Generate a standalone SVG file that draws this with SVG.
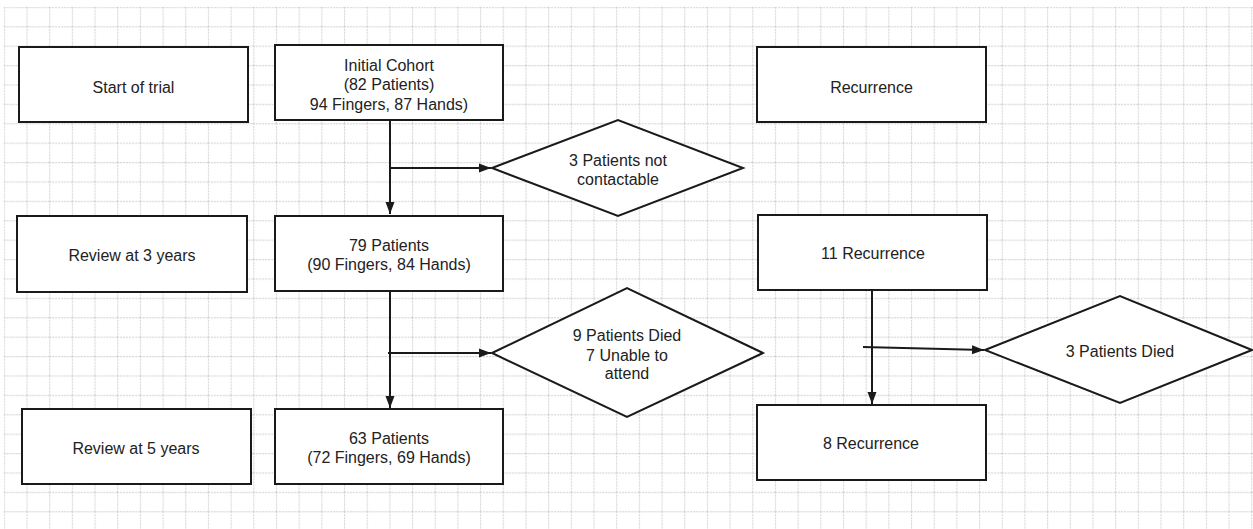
<svg xmlns="http://www.w3.org/2000/svg" width="1253" height="529" viewBox="0 0 1253 529">
<style>
.box{fill:#fff;stroke:#1a1a1a;stroke-width:2}
.dia{fill:#fff;stroke:#1a1a1a;stroke-width:2;stroke-linejoin:miter}
.t{font-family:"Liberation Sans",Arial,sans-serif;font-size:16px;fill:#222;text-anchor:middle}
.c{fill:none;stroke:#1a1a1a;stroke-width:2}
.g{stroke:#d6d6d6;stroke-width:1.2;stroke-dasharray:2 1;fill:none}
</style>
<defs>
<pattern id="grid" patternUnits="userSpaceOnUse" x="3.8" y="6.8" width="22.68" height="19.4">
<path class="g" d="M0.5,0 V19.4 M0,0.5 H22.68"/>
</pattern>
<marker id="arr" markerUnits="userSpaceOnUse" markerWidth="12" markerHeight="10" refX="12" refY="5" orient="auto">
<path d="M0,0.5 L12,5 L0,9.5 z" fill="#1a1a1a"/>
</marker>
</defs>
<rect x="0" y="0" width="1253" height="529" fill="#fff"/>
<rect x="3.8" y="6.8" width="1250" height="523" fill="url(#grid)"/>
<g id="connectors">
<path class="c" d="M390,120 V214" marker-end="url(#arr)"/>
<path class="c" d="M390,168 H491" marker-end="url(#arr)"/>
<path class="c" d="M390,291 V408" marker-end="url(#arr)"/>
<path class="c" d="M388,353 H491" marker-end="url(#arr)"/>
<path class="c" d="M872,290 V404" marker-end="url(#arr)"/>
<path class="c" d="M863,347 L984,350" marker-end="url(#arr)"/>
</g>
<g id="start-of-trial">
<rect class="box" x="19" y="47" width="229" height="75"/>
<text class="t" x="133.5" y="93">Start of trial</text>
</g>
<g id="initial-cohort">
<rect class="box" x="275" y="45" width="228" height="75"/>
<text class="t" x="389" y="70.5">Initial Cohort</text>
<text class="t" x="389" y="90">(82 Patients)</text>
<text class="t" x="389" y="109.5">94 Fingers, 87 Hands)</text>
</g>
<g id="recurrence">
<rect class="box" x="757" y="47" width="229" height="75"/>
<text class="t" x="871.5" y="92.5">Recurrence</text>
</g>
<g id="not-contactable">
<polygon class="dia" points="492,168 618,120 743,168 618,216"/>
<text class="t" x="618" y="166">3 Patients not</text>
<text class="t" x="618" y="185">contactable</text>
</g>
<g id="review-3">
<rect class="box" x="17" y="216" width="230" height="76"/>
<text class="t" x="132" y="261">Review at 3 years</text>
</g>
<g id="patients-79">
<rect class="box" x="275" y="216" width="228" height="75"/>
<text class="t" x="389" y="250.5">79 Patients</text>
<text class="t" x="389" y="270">(90 Fingers, 84 Hands)</text>
</g>
<g id="recurrence-11">
<rect class="box" x="758" y="215" width="229" height="75"/>
<text class="t" x="873" y="259">11 Recurrence</text>
</g>
<g id="died-unable">
<polygon class="dia" points="492,353 627,288 763,353 627,417"/>
<text class="t" x="627" y="341">9 Patients Died</text>
<text class="t" x="627" y="360.5">7 Unable to</text>
<text class="t" x="627" y="379">attend</text>
</g>
<g id="died-3">
<polygon class="dia" points="985,350 1120,296 1252,350 1120,403"/>
<text class="t" x="1120" y="356.5">3 Patients Died</text>
</g>
<g id="review-5">
<rect class="box" x="22" y="409" width="229" height="75"/>
<text class="t" x="136" y="453.5">Review at 5 years</text>
</g>
<g id="patients-63">
<rect class="box" x="275" y="409" width="228" height="75"/>
<text class="t" x="389" y="443.5">63 Patients</text>
<text class="t" x="389" y="463">(72 Fingers, 69 Hands)</text>
</g>
<g id="recurrence-8">
<rect class="box" x="757" y="405" width="229" height="75"/>
<text class="t" x="871" y="448.5">8 Recurrence</text>
</g>
</svg>
